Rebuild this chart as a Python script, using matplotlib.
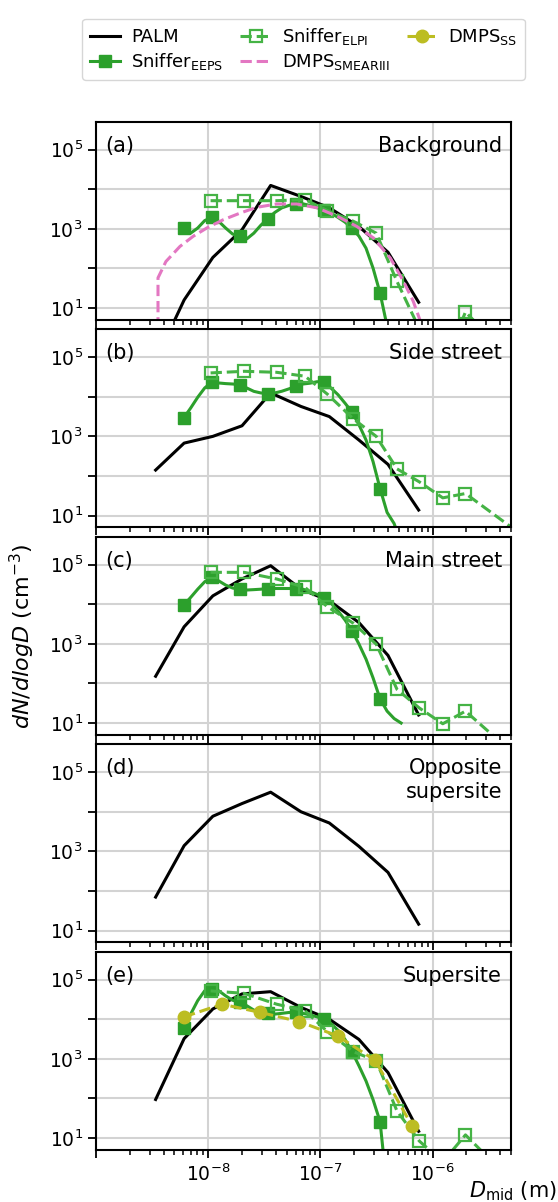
import numpy as np
import matplotlib
matplotlib.use('Agg')
import matplotlib.pyplot as plt
from matplotlib.ticker import NullLocator, LogLocator, FixedLocator

# bin mid diameters (m)
d_palm = [3.4e-9, 6.1e-9, 1.1e-8, 2.0e-8, 3.6e-8, 6.7e-8, 1.2e-7, 2.2e-7, 4.0e-7, 7.5e-7]
d_eeps = [6.04, 6.98, 8.06, 9.31, 10.8, 12.4, 14.3, 16.5, 19.1, 22.1, 25.5, 29.4, 34.0, 39.2,
          45.3, 52.3, 60.4, 69.8, 80.6, 93.1, 107.5, 124.1, 143.3, 165.5, 191.1, 220.7, 254.8,
          294.3, 339.8, 392.4, 453.2, 523.3]
d_eeps = [d * 1e-9 for d in d_eeps]
d_elpi = [1.05e-8, 2.09e-8, 4.07e-8, 7.3e-8, 1.15e-7, 1.97e-7, 3.14e-7, 4.81e-7, 7.6e-7, 1.23e-6, 1.96e-6, 6.0e-6]
d_smear = [3.0e-9, 3.57e-9, 4.2e-9, 5.6e-9, 7.35e-9, 9.7e-9, 1.36e-8, 1.92e-8, 2.7e-8, 4.08e-8, 6.15e-8,
           9.3e-8, 1.40e-7, 2.1e-7, 2.97e-7, 4.2e-7, 5.5e-7, 6.7e-7, 7.7e-7]
d_ss = [6.1e-9, 1.33e-8, 2.89e-8, 6.5e-8, 1.42e-7, 3.08e-7, 6.53e-7]

# dN/dlogD (cm-3)
palm = {
    'a': [0.47, 16, 190, 950, 12500, 6600, 3400, 1150, 257, 14],
    'b': [141, 676, 1000, 1850, 12500, 5700, 3160, 810, 196, 13.8],
    'c': [152, 2700, 16300, 43600, 94000, 24000, 12300, 3450, 510, 16],
    'd': [70, 1390, 7700, 16100, 31200, 10000, 5200, 1340, 294, 14.5],
    'e': [94, 3240, 18200, 43600, 49700, 19900, 10000, 3100, 450, 14.8],
}
eeps = {
    'a': [1050, 780, 1050, 1620, 1950, 1550, 1050, 740, 650, 560, 780, 1230, 1820, 2600, 3400, 3900,
          4300, 4300, 3900, 3450, 3000, 2500, 1950, 1480, 1050, 650, 325, 102, 24, 3.5, 0.8, 0.2],
    'b': [2900, 5200, 9700, 16700, 23500, 22300, 21500, 21000, 20300, 16600, 13700, 12500, 12000, 12500,
          13800, 15800, 18300, 21000, 22000, 24000, 23500, 16600, 11300, 6900, 4100, 1950, 810, 230,
          48, 12, 6.3, 2],
    'c': [9500, 14900, 24000, 37000, 48000, 39000, 30500, 25700, 24000, 22900, 23400, 24000, 25000,
          25000, 25000, 25000, 25000, 24000, 20900, 17800, 14200, 10700, 6800, 4000, 2130, 980, 410,
          138, 41, 20, 13, 10],
    'e': [5900, 13500, 29500, 52500, 58000, 52500, 38900, 30200, 26500, 21900, 17000, 14800, 14000,
          13500, 14100, 14800, 14900, 14100, 12900, 11500, 10000, 7800, 5250, 3090, 1510, 660, 275,
          93, 26, 0.5, 0.1, 0.05],
}
elpi = {
    'a': [5150, 5150, 5150, 5500, 2900, 1550, 780, 47, 3, 0.3, 8, 0.3],
    'b': [40000, 44000, 41500, 33000, 11700, 2750, 1000, 151, 71, 28, 36, 3.5],
    'c': [64000, 64000, 43500, 26500, 8700, 3300, 980, 71, 24, 9.6, 20, 1.2],
    'e': [52000, 45000, 24000, 16300, 4900, 1510, 890, 48, 8.4, 2.5, 12, 0.5],
}
smear_a = [0, 58, 150, 360, 650, 1050, 1700, 2500, 3500, 4250, 4250, 3400, 2100, 1160, 590, 183, 47, 15, 5]
ss_e = [11500, 24000, 14900, 8700, 3800, 910, 20.5]

panels = ['a', 'b', 'c', 'd', 'e']
titles = ['Background', 'Side street', 'Main street', 'Opposite\nsupersite', 'Supersite']

c_eeps = '#2ca02c'
c_elpi = '#45b345'
c_smear = '#e377c2'
c_ss = '#bcbd22'

plt.rcParams['font.size'] = 15
plt.rcParams['xtick.labelsize'] = 13.5
plt.rcParams['ytick.labelsize'] = 13.5

fig, axes = plt.subplots(5, 1, sharex=True, figsize=(5.58, 12.02), dpi=100)
fig.subplots_adjust(left=0.172, right=0.916, top=0.8985, bottom=0.0433, hspace=0.048)

for ax, p, title in zip(axes, panels, titles):
    ax.plot(d_palm, palm[p], color='black', lw=2.2, label='PALM')
    if p in eeps:
        ax.plot(d_eeps, eeps[p], color=c_eeps, lw=2.2, marker='s', ms=9, markevery=4,
                label=r'Sniffer$_{\mathrm{EEPS}}$')
        ax.plot(d_elpi, elpi[p], color=c_elpi, lw=2.2, ls='--', marker='s', ms=8,
                mfc='none', mew=1.6, label=r'Sniffer$_{\mathrm{ELPI}}$')
    if p == 'a':
        ax.plot(d_smear, smear_a, color=c_smear, lw=2.2, ls='--', label=r'DMPS$_{\mathrm{SMEARIII}}$')
    if p == 'e':
        ax.plot(d_ss, ss_e, color=c_ss, lw=2.2, ls='--', marker='o', ms=9, label=r'DMPS$_{\mathrm{SS}}$')

    ax.set_xscale('log')
    ax.set_yscale('log')
    ax.set_xlim(1e-9, 5e-6)
    ax.set_ylim(5, 5e5)
    ax.set_yticks([1e1, 1e2, 1e3, 1e4, 1e5])
    ax.set_yticklabels([r'$10^{1}$', '', r'$10^{3}$', '', r'$10^{5}$'])
    ax.yaxis.set_minor_locator(NullLocator())
    ax.xaxis.set_major_locator(FixedLocator([1e-9, 1e-8, 1e-7, 1e-6]))
    ax.xaxis.set_minor_locator(LogLocator(base=10, subs=np.arange(2, 10), numticks=20))
    ax.grid(True, which='major', color='#d3d3d3', lw=1.5)
    ax.set_axisbelow(True)
    ax.tick_params(which='major', length=6, width=1.3)
    ax.tick_params(which='minor', length=3.5, width=1.1)
    for s in ax.spines.values():
        s.set_linewidth(1.5)
    ax.text(0.022, 0.93, '(' + p + ')', transform=ax.transAxes, va='top', ha='left')
    ax.text(0.978, 0.93, title, transform=ax.transAxes, va='top', ha='right')

axes[4].set_xticklabels(['', r'$10^{-8}$', r'$10^{-7}$', r'$10^{-6}$'])

axes[2].set_ylabel(r'$dN/dlogD$ (cm$^{-3}$)', fontsize=16, labelpad=9)
axes[4].set_xlabel(r'$D_{\mathrm{mid}}$ (m)', loc='right')
axes[4].xaxis.set_label_coords(1.111, -0.15)

handles, labels = [], []
for ax in [axes[0], axes[4]]:
    h, l = ax.get_legend_handles_labels()
    for hh, ll in zip(h, l):
        if ll not in labels:
            handles.append(hh)
            labels.append(ll)
order = ['PALM', r'Sniffer$_{\mathrm{EEPS}}$', r'Sniffer$_{\mathrm{ELPI}}$',
         r'DMPS$_{\mathrm{SMEARIII}}$', r'DMPS$_{\mathrm{SS}}$']
handles = [handles[labels.index(o)] for o in order]
fig.legend(handles, order, loc='upper center', bbox_to_anchor=(0.544, 0.992), ncol=3,
           fontsize=13, handlelength=1.7, columnspacing=0.95, handletextpad=0.6,
           borderpad=0.4, labelspacing=0.3)

plt.savefig('out.png')
